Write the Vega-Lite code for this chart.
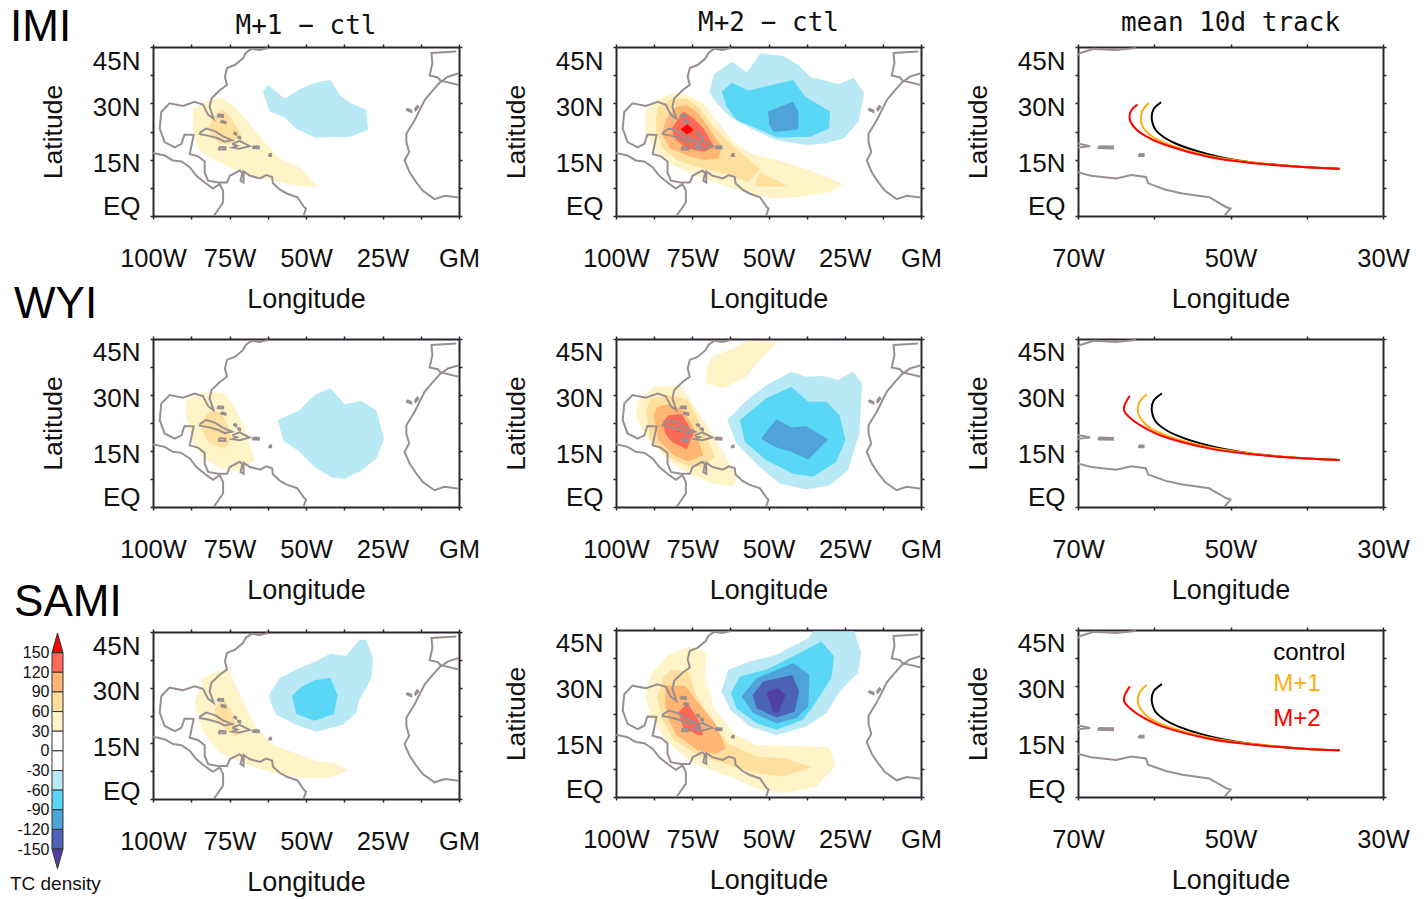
{"$schema":"https://vega.github.io/schema/vega-lite/v6.json","padding":{"left":9,"top":5,"right":5,"bottom":5},"columns":3,"bounds":"flush","spacing":{"row":123,"column":157},
"config":{"view":{"stroke":null},"line":{"order":null},"title":{"font":"DejaVu Sans Mono","fontSize":26,"fontWeight":"normal","color":"#111","offset":7},"axis":{"labelFont":"Liberation Sans","labelFontSize":25.5,"titleFont":"Liberation Sans","titleFontWeight":"normal","labelColor":"#111","titleColor":"#111","domainColor":"#2b2530","domainWidth":2,"tickColor":"#2b2530","tickWidth":1.5,"tickSize":3,"labelOverlap":false,"labelBound":false,"labelFlush":false,"grid":false,"zindex":1},"axisBottom":{"labelPadding":27,"titlePadding":15,"titleFontSize":27},"axisLeft":{"labelPadding":10,"labelFontSize":26,"titlePadding":25,"titleFontSize":26.5},"axisTop":{"labels":false},"axisRight":{"labels":false}},
"datasets":{
"coast":[
{"s":"a","lon":-62.4,"lat":44.7},{"s":"a","lon":-65.1,"lat":44.2},{"s":"a","lon":-67.9,"lat":44.5},{"s":"a","lon":-69.7,"lat":43.4},{"s":"a","lon":-70.6,"lat":42},{"s":"a","lon":-73.3,"lat":40.2},{"s":"a","lon":-75.8,"lat":39.4},{"s":"a","lon":-76.5,"lat":37.1},{"s":"a","lon":-75.8,"lat":34.9},{"s":"a","lon":-78.2,"lat":33.5},{"s":"a","lon":-80.9,"lat":31.3},{"s":"a","lon":-81.5,"lat":29.1},{"s":"a","lon":-80.2,"lat":25.9},{"s":"a","lon":-82,"lat":27},{"s":"a","lon":-83.7,"lat":29.7},{"s":"a","lon":-86.4,"lat":30.4},{"s":"a","lon":-90.2,"lat":29.3},{"s":"a","lon":-94.6,"lat":30},{"s":"a","lon":-97.3,"lat":27.7},{"s":"a","lon":-97.8,"lat":23.3},{"s":"a","lon":-96.2,"lat":19.7},{"s":"a","lon":-92.9,"lat":18.3},{"s":"a","lon":-90.7,"lat":19.2},{"s":"a","lon":-89.7,"lat":21.7},{"s":"a","lon":-86.7,"lat":21.6},{"s":"a","lon":-88,"lat":16.5},{"s":"a","lon":-85.3,"lat":15.9},{"s":"a","lon":-83.1,"lat":14.5},{"s":"a","lon":-83.1,"lat":11.6},{"s":"a","lon":-82,"lat":9.4},{"s":"a","lon":-78.8,"lat":8.9},{"s":"a","lon":-75.8,"lat":8.9},{"s":"a","lon":-74.9,"lat":10.7},{"s":"a","lon":-71.7,"lat":12.1},{"s":"a","lon":-70.8,"lat":11.4},{"s":"a","lon":-71.4,"lat":9.4},{"s":"a","lon":-70.4,"lat":8.9},{"s":"a","lon":-70.4,"lat":11.9},{"s":"a","lon":-68.3,"lat":10.7},{"s":"a","lon":-65,"lat":10},{"s":"a","lon":-63,"lat":10.9},{"s":"a","lon":-61.1,"lat":10.4},{"s":"a","lon":-60.8,"lat":8.7},{"s":"a","lon":-58.5,"lat":7},{"s":"a","lon":-56.3,"lat":6},{"s":"a","lon":-52.8,"lat":5},{"s":"a","lon":-50.6,"lat":2.4},{"s":"a","lon":-50,"lat":2},{"s":"a","lon":-50.8,"lat":0},
{"s":"b","lon":-100,"lat":16.8},{"s":"b","lon":-96.2,"lat":16.1},{"s":"b","lon":-93.5,"lat":14.8},{"s":"b","lon":-90.7,"lat":14.5},{"s":"b","lon":-88,"lat":13},{"s":"b","lon":-85.8,"lat":10.7},{"s":"b","lon":-83.1,"lat":8.9},{"s":"b","lon":-80.4,"lat":7.3},{"s":"b","lon":-78.2,"lat":8.5},{"s":"b","lon":-77.1,"lat":6.7},{"s":"b","lon":-77.1,"lat":3.6},{"s":"b","lon":-79.8,"lat":0.4},{"s":"b","lon":-80.2,"lat":0},
{"s":"c","lon":-0.9,"lat":43.8},{"s":"c","lon":-9,"lat":43.4},{"s":"c","lon":-8.7,"lat":40.7},{"s":"c","lon":-9.6,"lat":37.4},{"s":"c","lon":-6.9,"lat":36.9},{"s":"c","lon":-5.8,"lat":35.8},{"s":"c","lon":-3.6,"lat":37.1},{"s":"c","lon":0,"lat":38},
{"s":"d","lon":0,"lat":34.9},{"s":"d","lon":-5.8,"lat":36},{"s":"d","lon":-8.5,"lat":33.5},{"s":"d","lon":-11.2,"lat":30.9},{"s":"d","lon":-14.5,"lat":25.5},{"s":"d","lon":-17.2,"lat":21.9},{"s":"d","lon":-17.2,"lat":19.7},{"s":"d","lon":-16.3,"lat":17},{"s":"d","lon":-17.8,"lat":14.8},{"s":"d","lon":-16.1,"lat":11.6},{"s":"d","lon":-13.9,"lat":8.9},{"s":"d","lon":-11.8,"lat":6.7},{"s":"d","lon":-8,"lat":4.5},{"s":"d","lon":-4.7,"lat":5.4},{"s":"d","lon":0,"lat":4.9},
{"s":"e","lon":-84.7,"lat":22.2},{"s":"e","lon":-82.6,"lat":23.3},{"s":"e","lon":-79.8,"lat":22.6},{"s":"e","lon":-77.1,"lat":21.2},{"s":"e","lon":-74.2,"lat":20.2},{"s":"e","lon":-76.6,"lat":19.8},{"s":"e","lon":-78.8,"lat":20.7},{"s":"e","lon":-82,"lat":21.4},{"s":"e","lon":-84.7,"lat":21.8},{"s":"e","lon":-84.7,"lat":22.2},
{"s":"f","lon":-74.1,"lat":19.2},{"s":"f","lon":-71.7,"lat":20},{"s":"f","lon":-68.4,"lat":18.6},{"s":"f","lon":-71.7,"lat":17.9},{"s":"f","lon":-74.1,"lat":18.2},{"s":"f","lon":-72.5,"lat":18.7},{"s":"f","lon":-74.1,"lat":19.2},
{"s":"g","lon":-78.4,"lat":18.4},{"s":"g","lon":-76.3,"lat":18.3},{"s":"g","lon":-76.3,"lat":17.7},{"s":"g","lon":-78.4,"lat":17.7},{"s":"g","lon":-78.4,"lat":18.4},
{"s":"h","lon":-67.3,"lat":18.6},{"s":"h","lon":-65.4,"lat":18.5},{"s":"h","lon":-65.4,"lat":18},{"s":"h","lon":-67.3,"lat":18.1},{"s":"h","lon":-67.3,"lat":18.6},
{"s":"i","lon":-62,"lat":16.5},{"s":"i","lon":-61.4,"lat":16.5},{"s":"i","lon":-61.4,"lat":16},{"s":"i","lon":-62,"lat":16},{"s":"i","lon":-62,"lat":16.5},
{"s":"j","lon":-78.8,"lat":27},{"s":"j","lon":-77.1,"lat":26.9},{"s":"j","lon":-77.1,"lat":26.4},{"s":"j","lon":-78.8,"lat":26.5},{"s":"j","lon":-78.8,"lat":27},
{"s":"k","lon":-77.7,"lat":25.4},{"s":"k","lon":-76.3,"lat":25.1},{"s":"k","lon":-76.3,"lat":24.7},{"s":"k","lon":-77.7,"lat":25},{"s":"k","lon":-77.7,"lat":25.4},
{"s":"l","lon":-73.5,"lat":22.3},{"s":"l","lon":-72.8,"lat":22},{"s":"l","lon":-72.8,"lat":21.6},{"s":"l","lon":-73.5,"lat":21.9},{"s":"l","lon":-73.5,"lat":22.3},
{"s":"m","lon":-72.2,"lat":21.2},{"s":"m","lon":-71.5,"lat":21},{"s":"m","lon":-71.5,"lat":20.6},{"s":"m","lon":-72.2,"lat":20.8},{"s":"m","lon":-72.2,"lat":21.2},
{"s":"n","lon":-17,"lat":28.6},{"s":"n","lon":-15.6,"lat":28.1},{"s":"n","lon":-15.6,"lat":27.7},{"s":"n","lon":-17,"lat":28.2},{"s":"n","lon":-17,"lat":28.6},
{"s":"o","lon":-14.5,"lat":28.4},{"s":"o","lon":-13.6,"lat":29.3},{"s":"o","lon":-13.3,"lat":29},{"s":"o","lon":-14.2,"lat":28.1},{"s":"o","lon":-14.5,"lat":28.4}],
"a1":[
{"v":30,"lon":-86.9,"lat":28.6},{"v":30,"lon":-81.7,"lat":30.9},{"v":30,"lon":-77.7,"lat":31.5},{"v":30,"lon":-73.9,"lat":29.5},{"v":30,"lon":-69,"lat":25.1},{"v":30,"lon":-64.1,"lat":20.2},{"v":30,"lon":-58.6,"lat":15.3},{"v":30,"lon":-51.5,"lat":12.6},{"v":30,"lon":-47.2,"lat":8.6},{"v":30,"lon":-44.7,"lat":8},{"v":30,"lon":-49.9,"lat":7.7},{"v":30,"lon":-56.4,"lat":8.6},{"v":30,"lon":-66.2,"lat":10.4},{"v":30,"lon":-73.9,"lat":12.6},{"v":30,"lon":-81.5,"lat":15.7},{"v":30,"lon":-85.3,"lat":17.7},{"v":30,"lon":-86.9,"lat":22.9},
{"v":60,"lon":-82,"lat":23.8},{"v":60,"lon":-79.3,"lat":27.3},{"v":60,"lon":-77.1,"lat":28.5},{"v":60,"lon":-74.4,"lat":26},{"v":60,"lon":-71.1,"lat":21.5},{"v":60,"lon":-74.4,"lat":19.3},{"v":60,"lon":-78.2,"lat":19.3},{"v":60,"lon":-80.9,"lat":21.5},
{"v":-30,"lon":-64.1,"lat":33.1},{"v":-30,"lon":-62.4,"lat":34.9},{"v":-30,"lon":-57,"lat":31.3},{"v":-30,"lon":-51.5,"lat":34},{"v":-30,"lon":-47.2,"lat":35.5},{"v":-30,"lon":-42,"lat":36.2},{"v":-30,"lon":-39,"lat":32.2},{"v":-30,"lon":-35.7,"lat":30.2},{"v":-30,"lon":-30.3,"lat":28.2},{"v":-30,"lon":-29.7,"lat":22.9},{"v":-30,"lon":-35.7,"lat":21.1},{"v":-30,"lon":-47.2,"lat":20.9},{"v":-30,"lon":-53.2,"lat":23.3},{"v":-30,"lon":-57,"lat":26.2},{"v":-30,"lon":-61.9,"lat":27.8},{"v":-30,"lon":-63,"lat":30.4}],
"a2":[
{"v":30,"lon":-90.5,"lat":23.3},{"v":30,"lon":-90.2,"lat":27.8},{"v":30,"lon":-86.7,"lat":30.9},{"v":30,"lon":-81.2,"lat":32.8},{"v":30,"lon":-76.8,"lat":32.2},{"v":30,"lon":-71.3,"lat":30},{"v":30,"lon":-67,"lat":25.5},{"v":30,"lon":-62,"lat":20.2},{"v":30,"lon":-56,"lat":16.6},{"v":30,"lon":-47.3,"lat":14.9},{"v":30,"lon":-36.3,"lat":12.2},{"v":30,"lon":-25.4,"lat":8.5},{"v":30,"lon":-29.8,"lat":6.4},{"v":30,"lon":-39.6,"lat":5.1},{"v":30,"lon":-47.3,"lat":4.6},{"v":30,"lon":-54.9,"lat":5.5},{"v":30,"lon":-64.8,"lat":8.2},{"v":30,"lon":-75.7,"lat":11.3},{"v":30,"lon":-84.5,"lat":14.9},{"v":30,"lon":-87.7,"lat":18.4},
{"v":60,"lon":-86.9,"lat":26.4},{"v":60,"lon":-86.1,"lat":29.1},{"v":60,"lon":-81.2,"lat":31.3},{"v":60,"lon":-76.8,"lat":31.3},{"v":60,"lon":-73,"lat":29.1},{"v":60,"lon":-68,"lat":23.8},{"v":60,"lon":-62.6,"lat":19.3},{"v":60,"lon":-52.7,"lat":12.4},{"v":60,"lon":-56.6,"lat":9.1},{"v":60,"lon":-64.8,"lat":11.3},{"v":60,"lon":-71.3,"lat":12.6},{"v":60,"lon":-80.1,"lat":14.9},{"v":60,"lon":-85,"lat":18.4},{"v":60,"lon":-86.9,"lat":22.9},
{"v":60,"g":2,"lon":-53,"lat":11.7},{"v":60,"g":2,"lon":-43.4,"lat":7.9},{"v":60,"g":2,"lon":-48.4,"lat":7.7},{"v":60,"g":2,"lon":-54.4,"lat":8},
{"v":90,"lon":-84.7,"lat":22.9},{"v":90,"lon":-83.4,"lat":26},{"v":90,"lon":-80.4,"lat":29.1},{"v":90,"lon":-76.8,"lat":29.5},{"v":90,"lon":-73.5,"lat":27.8},{"v":90,"lon":-70.2,"lat":24.2},{"v":90,"lon":-65.3,"lat":18.4},{"v":90,"lon":-66.4,"lat":15.3},{"v":90,"lon":-71.3,"lat":14.9},{"v":90,"lon":-76.8,"lat":16.2},{"v":90,"lon":-82.3,"lat":18},{"v":90,"lon":-84.5,"lat":21.1},
{"v":120,"lon":-81.7,"lat":23.3},{"v":120,"lon":-77.9,"lat":27.8},{"v":120,"lon":-74.6,"lat":26},{"v":120,"lon":-71.3,"lat":23.3},{"v":120,"lon":-67.8,"lat":18.4},{"v":120,"lon":-71.3,"lat":17.1},{"v":120,"lon":-76.8,"lat":18},{"v":120,"lon":-80.6,"lat":20.6},
{"v":150,"lon":-78.8,"lat":23.1},{"v":150,"lon":-76.6,"lat":24.5},{"v":150,"lon":-74.6,"lat":22.9},{"v":150,"lon":-76.8,"lat":21.7},
{"v":-30,"lon":-69.4,"lat":33.1},{"v":-30,"lon":-67.8,"lat":37.8},{"v":-30,"lon":-62,"lat":41.1},{"v":-30,"lon":-57.1,"lat":38.2},{"v":-30,"lon":-52.7,"lat":43.3},{"v":-30,"lon":-45.1,"lat":42.6},{"v":-30,"lon":-40.2,"lat":40.2},{"v":-30,"lon":-36.3,"lat":37.1},{"v":-30,"lon":-27,"lat":35.1},{"v":-30,"lon":-22.1,"lat":36.8},{"v":-30,"lon":-18.6,"lat":32.7},{"v":-30,"lon":-20.5,"lat":25.1},{"v":-30,"lon":-25.4,"lat":20.6},{"v":-30,"lon":-31.9,"lat":19.3},{"v":-30,"lon":-37.4,"lat":18.9},{"v":-30,"lon":-47.3,"lat":20.2},{"v":-30,"lon":-54.9,"lat":22.9},{"v":-30,"lon":-62.6,"lat":26.4},{"v":-30,"lon":-67,"lat":30},
{"v":-60,"lon":-65.3,"lat":33.1},{"v":-60,"lon":-62,"lat":35.5},{"v":-60,"lon":-56.6,"lat":33.4},{"v":-60,"lon":-50.5,"lat":34.6},{"v":-60,"lon":-42,"lat":36.2},{"v":-60,"lon":-38,"lat":31.8},{"v":-60,"lon":-29.8,"lat":27.8},{"v":-60,"lon":-30.1,"lat":23.3},{"v":-60,"lon":-36.3,"lat":21.1},{"v":-60,"lon":-47.3,"lat":20.9},{"v":-60,"lon":-53.8,"lat":23.3},{"v":-60,"lon":-60.4,"lat":25.5},{"v":-60,"lon":-63.7,"lat":29.1},
{"v":-90,"lon":-50.2,"lat":27.8},{"v":-90,"lon":-42,"lat":30.4},{"v":-90,"lon":-40.2,"lat":27.8},{"v":-90,"lon":-40.2,"lat":23},{"v":-90,"lon":-48.4,"lat":22.4},{"v":-90,"lon":-49.7,"lat":24.2}],
"b1":[
{"v":30,"lon":-89.3,"lat":25},{"v":30,"lon":-89.1,"lat":28.6},{"v":30,"lon":-83.7,"lat":30.7},{"v":30,"lon":-77.1,"lat":30.7},{"v":30,"lon":-74.4,"lat":28.2},{"v":30,"lon":-70,"lat":21.5},{"v":30,"lon":-66.8,"lat":12.5},{"v":30,"lon":-71.1,"lat":9.8},{"v":30,"lon":-78.2,"lat":10.3},{"v":30,"lon":-83.1,"lat":13},{"v":30,"lon":-86.9,"lat":17},
{"v":60,"lon":-84.2,"lat":23.3},{"v":60,"lon":-81.5,"lat":25.5},{"v":60,"lon":-78.2,"lat":25.5},{"v":60,"lon":-75.5,"lat":21.9},{"v":60,"lon":-74.4,"lat":18.3},{"v":60,"lon":-76.6,"lat":15.4},{"v":60,"lon":-82,"lat":17.4},{"v":60,"lon":-83.7,"lat":20.1},
{"v":-30,"lon":-59.2,"lat":23.3},{"v":-30,"lon":-52.1,"lat":25.9},{"v":-30,"lon":-47.2,"lat":30},{"v":-30,"lon":-42,"lat":31.8},{"v":-30,"lon":-37.4,"lat":27.5},{"v":-30,"lon":-31.9,"lat":28.4},{"v":-30,"lon":-27,"lat":25.9},{"v":-30,"lon":-24.5,"lat":18.1},{"v":-30,"lon":-27,"lat":13},{"v":-30,"lon":-31.9,"lat":9.8},{"v":-30,"lon":-37.4,"lat":7.6},{"v":-30,"lon":-41.7,"lat":7.9},{"v":-30,"lon":-47.2,"lat":10.7},{"v":-30,"lon":-52.1,"lat":14.8},{"v":-30,"lon":-57.5,"lat":17.9}],
"b2":[
{"v":30,"lon":-93.5,"lat":24.2},{"v":30,"lon":-92.9,"lat":28.2},{"v":30,"lon":-87.7,"lat":32.2},{"v":30,"lon":-79,"lat":32.6},{"v":30,"lon":-74.1,"lat":26.8},{"v":30,"lon":-68.1,"lat":19.2},{"v":30,"lon":-63.2,"lat":12.1},{"v":30,"lon":-59.9,"lat":8.1},{"v":30,"lon":-62.1,"lat":5.5},{"v":30,"lon":-68.1,"lat":6.3},{"v":30,"lon":-75.7,"lat":8.5},{"v":30,"lon":-82.8,"lat":12.5},{"v":30,"lon":-90.4,"lat":19.2},
{"v":30,"g":2,"lon":-70.5,"lat":36.7},{"v":30,"g":2,"lon":-68.6,"lat":40.2},{"v":30,"g":2,"lon":-61.5,"lat":42.5},{"v":30,"g":2,"lon":-57.2,"lat":44.5},{"v":30,"g":2,"lon":-46.8,"lat":44.3},{"v":30,"g":2,"lon":-52.8,"lat":39.4},{"v":30,"g":2,"lon":-57.2,"lat":34.9},{"v":30,"g":2,"lon":-64.8,"lat":31.8},{"v":30,"g":2,"lon":-70.3,"lat":33.1},
{"v":60,"lon":-90.1,"lat":25.9},{"v":60,"lon":-88.8,"lat":29.1},{"v":60,"lon":-81.7,"lat":30},{"v":60,"lon":-76.3,"lat":28.6},{"v":60,"lon":-72.4,"lat":22.4},{"v":60,"lon":-67.5,"lat":13.4},{"v":60,"lon":-71.4,"lat":10.7},{"v":60,"lon":-76.3,"lat":10.7},{"v":60,"lon":-83.9,"lat":13.9},{"v":60,"lon":-88.8,"lat":17.9},
{"v":90,"lon":-87.7,"lat":24.6},{"v":90,"lon":-86.6,"lat":26.8},{"v":90,"lon":-82.8,"lat":27.5},{"v":90,"lon":-77.9,"lat":25.9},{"v":90,"lon":-74.1,"lat":20.6},{"v":90,"lon":-71.4,"lat":13.9},{"v":90,"lon":-76.3,"lat":12.1},{"v":90,"lon":-81.2,"lat":13.9},{"v":90,"lon":-86.1,"lat":17.9},
{"v":120,"lon":-84.6,"lat":22.8},{"v":120,"lon":-82.8,"lat":24.6},{"v":120,"lon":-78.4,"lat":24.9},{"v":120,"lon":-74.6,"lat":19.7},{"v":120,"lon":-76.8,"lat":15.4},{"v":120,"lon":-81.7,"lat":17.4},{"v":120,"lon":-83.9,"lat":19.7},
{"v":-30,"lon":-63.5,"lat":23.3},{"v":-30,"lon":-57.2,"lat":28.6},{"v":-30,"lon":-50.7,"lat":32.6},{"v":-30,"lon":-42.5,"lat":36.2},{"v":-30,"lon":-37.6,"lat":34.9},{"v":-30,"lon":-32.1,"lat":35.1},{"v":-30,"lon":-27.2,"lat":34},{"v":-30,"lon":-22.3,"lat":36.2},{"v":-30,"lon":-19.3,"lat":33.1},{"v":-30,"lon":-20.2,"lat":19.7},{"v":-30,"lon":-24,"lat":9.8},{"v":-30,"lon":-30,"lat":5.8},{"v":-30,"lon":-37.6,"lat":4.7},{"v":-30,"lon":-46.3,"lat":6.3},{"v":-30,"lon":-52.8,"lat":10.7},{"v":-30,"lon":-60.5,"lat":17},
{"v":-60,"lon":-59.4,"lat":23.3},{"v":-60,"lon":-50.7,"lat":29.1},{"v":-60,"lon":-42.5,"lat":32.2},{"v":-60,"lon":-37,"lat":28.2},{"v":-60,"lon":-31,"lat":28.2},{"v":-60,"lon":-26.7,"lat":24.6},{"v":-60,"lon":-24.8,"lat":17.9},{"v":-60,"lon":-27.8,"lat":12.1},{"v":-60,"lon":-35.4,"lat":8.1},{"v":-60,"lon":-41.9,"lat":8.9},{"v":-60,"lon":-50.7,"lat":12.5},{"v":-60,"lon":-57.7,"lat":17.4},
{"v":-90,"lon":-52.5,"lat":18.3},{"v":-90,"lon":-47.4,"lat":23.5},{"v":-90,"lon":-42.5,"lat":21.3},{"v":-90,"lon":-37.6,"lat":21.7},{"v":-90,"lon":-30.5,"lat":18.1},{"v":-90,"lon":-37,"lat":12.7},{"v":-90,"lon":-42.5,"lat":14.8},{"v":-90,"lon":-47.9,"lat":16.1}],
"c1":[
{"v":30,"lon":-86.4,"lat":26.3},{"v":30,"lon":-83.7,"lat":32.6},{"v":30,"lon":-76,"lat":35.6},{"v":30,"lon":-71.7,"lat":28.6},{"v":30,"lon":-67.3,"lat":20.5},{"v":30,"lon":-60.8,"lat":14.6},{"v":30,"lon":-52.1,"lat":11.9},{"v":30,"lon":-46.6,"lat":10.2},{"v":30,"lon":-41.2,"lat":10},{"v":30,"lon":-36.3,"lat":7.7},{"v":30,"lon":-42.3,"lat":5.7},{"v":30,"lon":-52.1,"lat":5.7},{"v":30,"lon":-60.8,"lat":7},{"v":30,"lon":-69.5,"lat":9.3},{"v":30,"lon":-78.8,"lat":12.8},{"v":30,"lon":-83.7,"lat":18.2},
{"v":60,"lon":-79.8,"lat":24.1},{"v":60,"lon":-77.1,"lat":27.7},{"v":60,"lon":-74.9,"lat":24.1},{"v":60,"lon":-71.7,"lat":17.8},{"v":60,"lon":-72.8,"lat":16.7},{"v":60,"lon":-76,"lat":18.7},{"v":60,"lon":-78.8,"lat":20.9},
{"v":-30,"lon":-62.1,"lat":28.1},{"v":-30,"lon":-58.6,"lat":32.6},{"v":-30,"lon":-52.1,"lat":35.3},{"v":-30,"lon":-46.6,"lat":37.1},{"v":-30,"lon":-42,"lat":39.2},{"v":-30,"lon":-37,"lat":38.5},{"v":-30,"lon":-32.5,"lat":42.9},{"v":-30,"lon":-30.3,"lat":42.9},{"v":-30,"lon":-28.1,"lat":38},{"v":-30,"lon":-28.6,"lat":32.6},{"v":-30,"lon":-32.5,"lat":26.8},{"v":-30,"lon":-33.6,"lat":23.2},{"v":-30,"lon":-37.9,"lat":20},{"v":-30,"lon":-46.6,"lat":18.1},{"v":-30,"lon":-53.2,"lat":20},{"v":-30,"lon":-59.7,"lat":22.7},{"v":-30,"lon":-61.3,"lat":25.4},
{"v":-60,"lon":-54.6,"lat":27.9},{"v":-60,"lon":-51.5,"lat":30.2},{"v":-60,"lon":-47.2,"lat":32},{"v":-60,"lon":-42,"lat":32.7},{"v":-60,"lon":-39.7,"lat":27.9},{"v":-60,"lon":-40.9,"lat":22.9},{"v":-60,"lon":-47.2,"lat":21.1},{"v":-60,"lon":-53.2,"lat":22.9}],
"c2":[
{"v":30,"lon":-90.4,"lat":27.1},{"v":30,"lon":-88.2,"lat":33.4},{"v":30,"lon":-83.3,"lat":37.9},{"v":30,"lon":-76.3,"lat":40.6},{"v":30,"lon":-70.3,"lat":38.8},{"v":30,"lon":-70.8,"lat":32},{"v":30,"lon":-67.5,"lat":23.5},{"v":30,"lon":-61.5,"lat":17.2},{"v":30,"lon":-53.9,"lat":14},{"v":30,"lon":-39.8,"lat":13.8},{"v":30,"lon":-30,"lat":13.4},{"v":30,"lon":-28,"lat":8.2},{"v":30,"lon":-34.3,"lat":2.8},{"v":30,"lon":-45.2,"lat":1},{"v":30,"lon":-53.9,"lat":2.3},{"v":30,"lon":-62.6,"lat":5.5},{"v":30,"lon":-74.6,"lat":9.1},{"v":30,"lon":-83.3,"lat":14.9},{"v":30,"lon":-88.2,"lat":20.8},
{"v":60,"lon":-86.4,"lat":27.1},{"v":60,"lon":-84.4,"lat":32.5},{"v":60,"lon":-81.7,"lat":34.3},{"v":60,"lon":-76.3,"lat":33.8},{"v":60,"lon":-73.5,"lat":27.1},{"v":60,"lon":-68.1,"lat":19.9},{"v":60,"lon":-63.2,"lat":14.5},{"v":60,"lon":-53.9,"lat":10.9},{"v":60,"lon":-44.1,"lat":10.4},{"v":60,"lon":-36,"lat":8},{"v":60,"lon":-45.2,"lat":5.5},{"v":60,"lon":-53.9,"lat":6.4},{"v":60,"lon":-61.5,"lat":8.2},{"v":60,"lon":-72.4,"lat":10.9},{"v":60,"lon":-81.2,"lat":15.4},{"v":60,"lon":-85,"lat":21.2},
{"v":90,"lon":-83.9,"lat":25.3},{"v":90,"lon":-83.7,"lat":30},{"v":90,"lon":-77.3,"lat":30},{"v":90,"lon":-73,"lat":25.3},{"v":90,"lon":-67.5,"lat":19.9},{"v":90,"lon":-63.9,"lat":13.1},{"v":90,"lon":-67.5,"lat":11.6},{"v":90,"lon":-73.5,"lat":12.7},{"v":90,"lon":-80.1,"lat":16.7},{"v":90,"lon":-82.8,"lat":20.8},
{"v":120,"lon":-79.5,"lat":23},{"v":120,"lon":-76.6,"lat":25.3},{"v":120,"lon":-73,"lat":20.8},{"v":120,"lon":-71.4,"lat":16.7},{"v":120,"lon":-73,"lat":16.7},{"v":120,"lon":-77.9,"lat":18.5},
{"v":-30,"lon":-65.4,"lat":28.4},{"v":-30,"lon":-63.2,"lat":34.3},{"v":-30,"lon":-56.1,"lat":36.5},{"v":-30,"lon":-47.4,"lat":38.3},{"v":-30,"lon":-37,"lat":42.8},{"v":-30,"lon":-35.4,"lat":44.6},{"v":-30,"lon":-21.8,"lat":44.6},{"v":-30,"lon":-19.6,"lat":38.8},{"v":-30,"lon":-20.7,"lat":33.4},{"v":-30,"lon":-26.7,"lat":28.4},{"v":-30,"lon":-31,"lat":22.6},{"v":-30,"lon":-37.6,"lat":19},{"v":-30,"lon":-47.4,"lat":16.7},{"v":-30,"lon":-56.1,"lat":19},{"v":-30,"lon":-62.6,"lat":23.5},
{"v":-60,"lon":-62.3,"lat":28},{"v":-60,"lon":-59.4,"lat":32.5},{"v":-60,"lon":-50.7,"lat":34.3},{"v":-60,"lon":-40.9,"lat":38.3},{"v":-60,"lon":-32.7,"lat":41.9},{"v":-60,"lon":-28.5,"lat":37.9},{"v":-60,"lon":-29.4,"lat":32},{"v":-60,"lon":-35.4,"lat":24.4},{"v":-60,"lon":-38.7,"lat":20.8},{"v":-60,"lon":-47.4,"lat":18.1},{"v":-60,"lon":-53.9,"lat":19.9},{"v":-60,"lon":-60.5,"lat":23.9},
{"v":-90,"lon":-58.8,"lat":27.1},{"v":-90,"lon":-53.9,"lat":32},{"v":-90,"lon":-41.9,"lat":36.1},{"v":-90,"lon":-36.5,"lat":32.9},{"v":-90,"lon":-37,"lat":24.4},{"v":-90,"lon":-40.9,"lat":21.2},{"v":-90,"lon":-47.4,"lat":19.9},{"v":-90,"lon":-55,"lat":22.6},
{"v":-120,"lon":-55.2,"lat":27.5},{"v":-120,"lon":-51.7,"lat":31.1},{"v":-120,"lon":-42.2,"lat":32.9},{"v":-120,"lon":-40,"lat":28.4},{"v":-120,"lon":-41.4,"lat":23},{"v":-120,"lon":-47.4,"lat":21.4},{"v":-120,"lon":-53.9,"lat":23.9},
{"v":-150,"lon":-50.7,"lat":28.2},{"v":-150,"lon":-46.8,"lat":29.3},{"v":-150,"lon":-44.4,"lat":27.5},{"v":-150,"lon":-46.8,"lat":22.6},{"v":-150,"lon":-48.5,"lat":23}],
"t1":[
{"s":"control","lon":-59.1,"lat":30.3},{"s":"control","lon":-60.1,"lat":28.4},{"s":"control","lon":-60.3,"lat":25.5},{"s":"control","lon":-59.6,"lat":22.4},{"s":"control","lon":-57.2,"lat":19.3},{"s":"control","lon":-52.8,"lat":16.4},{"s":"control","lon":-47.6,"lat":14.4},{"s":"control","lon":-41,"lat":13.1},{"s":"control","lon":-35.7,"lat":12.6},
{"s":"M+1","lon":-60.7,"lat":30.1},{"s":"M+1","lon":-61.6,"lat":27.8},{"s":"M+1","lon":-61.6,"lat":24.2},{"s":"M+1","lon":-60.2,"lat":21.1},{"s":"M+1","lon":-57.2,"lat":18.4},{"s":"M+1","lon":-52.8,"lat":16},{"s":"M+1","lon":-47.6,"lat":14.4},{"s":"M+1","lon":-41,"lat":13.1},{"s":"M+1","lon":-35.7,"lat":12.6},
{"s":"M+2","lon":-62.2,"lat":29.7},{"s":"M+2","lon":-63.1,"lat":27.8},{"s":"M+2","lon":-63.1,"lat":25.1},{"s":"M+2","lon":-61.7,"lat":22},{"s":"M+2","lon":-58.5,"lat":18.9},{"s":"M+2","lon":-52.8,"lat":15.7},{"s":"M+2","lon":-47.6,"lat":14.2},{"s":"M+2","lon":-41,"lat":13.1},{"s":"M+2","lon":-35.7,"lat":12.6}],
"t2":[
{"s":"control","lon":-59,"lat":30.4},{"s":"control","lon":-60.1,"lat":28.4},{"s":"control","lon":-60.3,"lat":25.5},{"s":"control","lon":-59.6,"lat":22.4},{"s":"control","lon":-57.2,"lat":19.3},{"s":"control","lon":-52.8,"lat":16.4},{"s":"control","lon":-47.6,"lat":14.4},{"s":"control","lon":-41,"lat":13.1},{"s":"control","lon":-35.7,"lat":12.6},
{"s":"M+1","lon":-61,"lat":30.2},{"s":"M+1","lon":-62,"lat":27.8},{"s":"M+1","lon":-62,"lat":24.5},{"s":"M+1","lon":-60.4,"lat":21},{"s":"M+1","lon":-57.2,"lat":18.3},{"s":"M+1","lon":-52.8,"lat":16},{"s":"M+1","lon":-47.6,"lat":14.4},{"s":"M+1","lon":-41,"lat":13.1},{"s":"M+1","lon":-35.7,"lat":12.6},
{"s":"M+2","lon":-63.2,"lat":29.8},{"s":"M+2","lon":-63.9,"lat":27.2},{"s":"M+2","lon":-63.8,"lat":25.2},{"s":"M+2","lon":-62,"lat":22.1},{"s":"M+2","lon":-58.8,"lat":18.9},{"s":"M+2","lon":-52.8,"lat":15.7},{"s":"M+2","lon":-47.6,"lat":14.2},{"s":"M+2","lon":-41,"lat":13.1},{"s":"M+2","lon":-35.7,"lat":12.6}],
"bins":[{"lo":120,"hi":150,"v":120},{"lo":90,"hi":120,"v":90},{"lo":60,"hi":90,"v":60},{"lo":30,"hi":60,"v":30},{"lo":0,"hi":30,"v":0},{"lo":-30,"hi":0,"v":0},{"lo":-60,"hi":-30,"v":-30},{"lo":-90,"hi":-60,"v":-60},{"lo":-120,"hi":-90,"v":-90},{"lo":-150,"hi":-120,"v":-120}],
"tips":[{"v":150,"a":0,"d":150},{"v":150,"a":0.5,"d":180},{"v":150,"a":1,"d":150},{"v":-150,"a":0,"d":-150},{"v":-150,"a":0.5,"d":-180},{"v":-150,"a":1,"d":-150}]
},
"concat":[
{"width":306,"height":169,"title":{"text":"M+1 − ctl","offset":-33},"resolve":{"axis":{"x":"independent","y":"independent"}},"layer":[
{"data":{"name":"a1"},"mark":{"type":"line","interpolate":"linear-closed","strokeWidth":0},"encoding":{"x":{"field":"lon","type":"quantitative","scale":{"domain":[-100,0]},"axis":{"orient":"bottom","values":[-100,-87.5,-75,-62.5,-50,-37.5,-25,-12.5,0],"labelExpr":"datum.value===0?'GM':datum.value%25===0?abs(datum.value)+'W':''","title":"Longitude"}},"y":{"field":"lat","type":"quantitative","scale":{"domain":[0,45]},"axis":{"orient":"left","values":[0,7.5,15,22.5,30,37.5,45],"labelExpr":"datum.value===0?'EQ':datum.value%15===0?datum.value+'N':''","labelOffset":{"condition":[{"test":"datum.value===45","value":14},{"test":"datum.value===0","value":-10}],"value":4},"title":"Latitude"}},"fill":{"field":"v","type":"ordinal","scale":{"domain":[-150,-120,-90,-60,-30,0,30,60,90,120,150],"range":["#5040A4","#4C62B4","#4FA3D9","#5AD7F6","#B8E9F4","#FFFFFF","#FFF4C8","#FFDF9E","#FFB574","#FF6A58","#FF0000"]},"legend":null},"detail":{"field":"g"}}},
{"data":{"name":"coast"},"mark":{"type":"line","clip":true,"stroke":"#9a8f90","strokeWidth":2},"encoding":{"x":{"field":"lon","type":"quantitative","scale":{"domain":[-100,0]},"axis":{"orient":"top","values":[-100,-87.5,-75,-62.5,-50,-37.5,-25,-12.5,0],"title":null}},"y":{"field":"lat","type":"quantitative","scale":{"domain":[0,45]},"axis":{"orient":"right","values":[0,7.5,15,22.5,30,37.5,45],"title":null}},"detail":{"field":"s"}}},
{"data":{"values":[{"t":"IMI","lon":-146.7,"lat":50.1}]},"mark":{"type":"text","align":"left","font":"Liberation Sans","fontSize":44,"color":"#000"},"encoding":{"x":{"field":"lon","type":"quantitative","scale":{"domain":[-100,0]},"axis":null},"y":{"field":"lat","type":"quantitative","scale":{"domain":[0,45]},"axis":null},"text":{"field":"t"}}}]},
{"width":305,"height":169,"title":"M+2 − ctl","resolve":{"axis":{"x":"independent","y":"independent"}},"layer":[
{"data":{"name":"a2"},"mark":{"type":"line","interpolate":"linear-closed","strokeWidth":0},"encoding":{"x":{"field":"lon","type":"quantitative","scale":{"domain":[-100,0]},"axis":{"orient":"bottom","values":[-100,-87.5,-75,-62.5,-50,-37.5,-25,-12.5,0],"labelExpr":"datum.value===0?'GM':datum.value%25===0?abs(datum.value)+'W':''","title":"Longitude"}},"y":{"field":"lat","type":"quantitative","scale":{"domain":[0,45]},"axis":{"orient":"left","values":[0,7.5,15,22.5,30,37.5,45],"labelExpr":"datum.value===0?'EQ':datum.value%15===0?datum.value+'N':''","labelOffset":{"condition":[{"test":"datum.value===45","value":14},{"test":"datum.value===0","value":-10}],"value":4},"title":"Latitude"}},"fill":{"field":"v","type":"ordinal","scale":{"domain":[-150,-120,-90,-60,-30,0,30,60,90,120,150],"range":["#5040A4","#4C62B4","#4FA3D9","#5AD7F6","#B8E9F4","#FFFFFF","#FFF4C8","#FFDF9E","#FFB574","#FF6A58","#FF0000"]},"legend":null},"detail":{"field":"g"}}},
{"data":{"name":"coast"},"mark":{"type":"line","clip":true,"stroke":"#9a8f90","strokeWidth":2},"encoding":{"x":{"field":"lon","type":"quantitative","scale":{"domain":[-100,0]},"axis":{"orient":"top","values":[-100,-87.5,-75,-62.5,-50,-37.5,-25,-12.5,0],"title":null}},"y":{"field":"lat","type":"quantitative","scale":{"domain":[0,45]},"axis":{"orient":"right","values":[0,7.5,15,22.5,30,37.5,45],"title":null}},"detail":{"field":"s"}}}]},
{"width":305,"height":169,"title":"mean 10d track","resolve":{"axis":{"x":"independent","y":"independent"}},"layer":[
{"data":{"name":"coast"},"mark":{"type":"line","clip":true,"stroke":"#9a8f90","strokeWidth":2},"encoding":{"x":{"field":"lon","type":"quantitative","scale":{"domain":[-70,-30]},"axis":{"orient":"bottom","values":[-70,-60,-50,-40,-30],"labelExpr":"abs(datum.value)%20===10?abs(datum.value)+'W':''","title":"Longitude"}},"y":{"field":"lat","type":"quantitative","scale":{"domain":[0,45]},"axis":{"orient":"left","values":[0,7.5,15,22.5,30,37.5,45],"labelExpr":"datum.value===0?'EQ':datum.value%15===0?datum.value+'N':''","labelOffset":{"condition":[{"test":"datum.value===45","value":14},{"test":"datum.value===0","value":-10}],"value":4},"title":"Latitude"}},"detail":{"field":"s"}}},
{"data":{"name":"t1"},"mark":{"type":"line","interpolate":"cardinal","strokeWidth":2},"encoding":{"x":{"field":"lon","type":"quantitative","scale":{"domain":[-70,-30]},"axis":{"orient":"top","values":[-70,-60,-50,-40,-30],"title":null}},"y":{"field":"lat","type":"quantitative","scale":{"domain":[0,45]},"axis":{"orient":"right","values":[0,7.5,15,22.5,30,37.5,45],"title":null}},"color":{"field":"s","type":"nominal","scale":{"domain":["control","M+1","M+2"],"range":["#000000","#FBAE17","#FF0000"]},"legend":null}}}]},
{"width":306,"height":168,"resolve":{"axis":{"x":"independent","y":"independent"}},"layer":[
{"data":{"name":"b1"},"mark":{"type":"line","interpolate":"linear-closed","strokeWidth":0},"encoding":{"x":{"field":"lon","type":"quantitative","scale":{"domain":[-100,0]},"axis":{"orient":"bottom","values":[-100,-87.5,-75,-62.5,-50,-37.5,-25,-12.5,0],"labelExpr":"datum.value===0?'GM':datum.value%25===0?abs(datum.value)+'W':''","title":"Longitude"}},"y":{"field":"lat","type":"quantitative","scale":{"domain":[0,45]},"axis":{"orient":"left","values":[0,7.5,15,22.5,30,37.5,45],"labelExpr":"datum.value===0?'EQ':datum.value%15===0?datum.value+'N':''","labelOffset":{"condition":[{"test":"datum.value===45","value":13},{"test":"datum.value===0","value":-10}],"value":3},"title":"Latitude"}},"fill":{"field":"v","type":"ordinal","scale":{"domain":[-150,-120,-90,-60,-30,0,30,60,90,120,150],"range":["#5040A4","#4C62B4","#4FA3D9","#5AD7F6","#B8E9F4","#FFFFFF","#FFF4C8","#FFDF9E","#FFB574","#FF6A58","#FF0000"]},"legend":null},"detail":{"field":"g"}}},
{"data":{"name":"coast"},"mark":{"type":"line","clip":true,"stroke":"#9a8f90","strokeWidth":2},"encoding":{"x":{"field":"lon","type":"quantitative","scale":{"domain":[-100,0]},"axis":{"orient":"top","values":[-100,-87.5,-75,-62.5,-50,-37.5,-25,-12.5,0],"title":null}},"y":{"field":"lat","type":"quantitative","scale":{"domain":[0,45]},"axis":{"orient":"right","values":[0,7.5,15,22.5,30,37.5,45],"title":null}},"detail":{"field":"s"}}},
{"data":{"values":[{"t":"WYI","lon":-145.4,"lat":54.1}]},"mark":{"type":"text","align":"left","font":"Liberation Sans","fontSize":44,"color":"#000"},"encoding":{"x":{"field":"lon","type":"quantitative","scale":{"domain":[-100,0]},"axis":null},"y":{"field":"lat","type":"quantitative","scale":{"domain":[0,45]},"axis":null},"text":{"field":"t"}}}]},
{"width":305,"height":168,"resolve":{"axis":{"x":"independent","y":"independent"}},"layer":[
{"data":{"name":"b2"},"mark":{"type":"line","interpolate":"linear-closed","strokeWidth":0},"encoding":{"x":{"field":"lon","type":"quantitative","scale":{"domain":[-100,0]},"axis":{"orient":"bottom","values":[-100,-87.5,-75,-62.5,-50,-37.5,-25,-12.5,0],"labelExpr":"datum.value===0?'GM':datum.value%25===0?abs(datum.value)+'W':''","title":"Longitude"}},"y":{"field":"lat","type":"quantitative","scale":{"domain":[0,45]},"axis":{"orient":"left","values":[0,7.5,15,22.5,30,37.5,45],"labelExpr":"datum.value===0?'EQ':datum.value%15===0?datum.value+'N':''","labelOffset":{"condition":[{"test":"datum.value===45","value":13},{"test":"datum.value===0","value":-10}],"value":3},"title":"Latitude"}},"fill":{"field":"v","type":"ordinal","scale":{"domain":[-150,-120,-90,-60,-30,0,30,60,90,120,150],"range":["#5040A4","#4C62B4","#4FA3D9","#5AD7F6","#B8E9F4","#FFFFFF","#FFF4C8","#FFDF9E","#FFB574","#FF6A58","#FF0000"]},"legend":null},"detail":{"field":"g"}}},
{"data":{"name":"coast"},"mark":{"type":"line","clip":true,"stroke":"#9a8f90","strokeWidth":2},"encoding":{"x":{"field":"lon","type":"quantitative","scale":{"domain":[-100,0]},"axis":{"orient":"top","values":[-100,-87.5,-75,-62.5,-50,-37.5,-25,-12.5,0],"title":null}},"y":{"field":"lat","type":"quantitative","scale":{"domain":[0,45]},"axis":{"orient":"right","values":[0,7.5,15,22.5,30,37.5,45],"title":null}},"detail":{"field":"s"}}}]},
{"width":305,"height":168,"resolve":{"axis":{"x":"independent","y":"independent"}},"layer":[
{"data":{"name":"coast"},"mark":{"type":"line","clip":true,"stroke":"#9a8f90","strokeWidth":2},"encoding":{"x":{"field":"lon","type":"quantitative","scale":{"domain":[-70,-30]},"axis":{"orient":"bottom","values":[-70,-60,-50,-40,-30],"labelExpr":"abs(datum.value)%20===10?abs(datum.value)+'W':''","title":"Longitude"}},"y":{"field":"lat","type":"quantitative","scale":{"domain":[0,45]},"axis":{"orient":"left","values":[0,7.5,15,22.5,30,37.5,45],"labelExpr":"datum.value===0?'EQ':datum.value%15===0?datum.value+'N':''","labelOffset":{"condition":[{"test":"datum.value===45","value":13},{"test":"datum.value===0","value":-10}],"value":3},"title":"Latitude"}},"detail":{"field":"s"}}},
{"data":{"name":"t2"},"mark":{"type":"line","interpolate":"cardinal","strokeWidth":2},"encoding":{"x":{"field":"lon","type":"quantitative","scale":{"domain":[-70,-30]},"axis":{"orient":"top","values":[-70,-60,-50,-40,-30],"title":null}},"y":{"field":"lat","type":"quantitative","scale":{"domain":[0,45]},"axis":{"orient":"right","values":[0,7.5,15,22.5,30,37.5,45],"title":null}},"color":{"field":"s","type":"nominal","scale":{"domain":["control","M+1","M+2"],"range":["#000000","#FBAE17","#FF0000"]},"legend":null}}}]},
{"width":306,"height":169,"resolve":{"scale":{"x":"independent","y":"independent"},"axis":{"x":"independent","y":"independent"}},"layer":[
{"resolve":{"axis":{"x":"independent","y":"independent"}},"layer":[
{"data":{"name":"c1"},"mark":{"type":"line","interpolate":"linear-closed","strokeWidth":0},"encoding":{"x":{"field":"lon","type":"quantitative","scale":{"domain":[-100,0]},"axis":{"orient":"bottom","values":[-100,-87.5,-75,-62.5,-50,-37.5,-25,-12.5,0],"labelExpr":"datum.value===0?'GM':datum.value%25===0?abs(datum.value)+'W':''","title":"Longitude"}},"y":{"field":"lat","type":"quantitative","scale":{"domain":[0,45],"range":[169,2]},"axis":{"orient":"left","values":[0,7.5,15,22.5,30,37.5,45],"labelExpr":"datum.value===0?'EQ':datum.value%15===0?datum.value+'N':''","labelOffset":{"condition":[{"test":"datum.value===45","value":14},{"test":"datum.value===0","value":-8}],"value":4},"title":null}},"fill":{"field":"v","type":"ordinal","scale":{"domain":[-150,-120,-90,-60,-30,0,30,60,90,120,150],"range":["#5040A4","#4C62B4","#4FA3D9","#5AD7F6","#B8E9F4","#FFFFFF","#FFF4C8","#FFDF9E","#FFB574","#FF6A58","#FF0000"]},"legend":null},"detail":{"field":"g"}}},
{"data":{"name":"coast"},"mark":{"type":"line","clip":true,"stroke":"#9a8f90","strokeWidth":2},"encoding":{"x":{"field":"lon","type":"quantitative","scale":{"domain":[-100,0]},"axis":{"orient":"top","offset":-2,"values":[-100,-87.5,-75,-62.5,-50,-37.5,-25,-12.5,0],"title":null}},"y":{"field":"lat","type":"quantitative","scale":{"domain":[0,45],"range":[169,2]},"axis":{"orient":"right","values":[0,7.5,15,22.5,30,37.5,45],"title":null}},"detail":{"field":"s"}}},
{"data":{"values":[{"t":"SAMI","lon":-145.4,"lat":52.9}]},"mark":{"type":"text","align":"left","font":"Liberation Sans","fontSize":44,"color":"#000"},"encoding":{"x":{"field":"lon","type":"quantitative","scale":{"domain":[-100,0]},"axis":null},"y":{"field":"lat","type":"quantitative","scale":{"domain":[0,45],"range":[169,2]},"axis":null},"text":{"field":"t"}}}]},
{"resolve":{"axis":{"x":"independent","y":"independent"}},"layer":[
{"data":{"name":"bins"},"mark":{"type":"rect","stroke":"#333","strokeWidth":1},"encoding":{"x":{"datum":0,"type":"quantitative","scale":{"domain":[0,1],"range":[-101,-90]},"axis":null},"x2":{"datum":1},"y":{"field":"lo","type":"quantitative","scale":{"domain":[-180,180],"range":[238.7,3]},"axis":{"orient":"left","offset":101,"domain":false,"ticks":false,"values":[-150,-120,-90,-60,-30,0,30,60,90,120,150],"labelExpr":"datum.value+''","labelFontSize":16,"labelPadding":3,"title":null}},"y2":{"field":"hi"},"fill":{"field":"v","type":"ordinal","scale":{"domain":[-150,-120,-90,-60,-30,0,30,60,90,120,150],"range":["#5040A4","#4C62B4","#4FA3D9","#5AD7F6","#B8E9F4","#FFFFFF","#FFF4C8","#FFDF9E","#FFB574","#FF6A58","#FF0000"]},"legend":null}}},
{"data":{"name":"tips"},"mark":{"type":"line","interpolate":"linear-closed","stroke":"#333","strokeWidth":1},"encoding":{"x":{"field":"a","type":"quantitative","scale":{"domain":[0,1],"range":[-101,-90]},"axis":null},"y":{"field":"d","type":"quantitative","scale":{"domain":[-180,180],"range":[238.7,3]},"axis":null},"fill":{"field":"v","type":"ordinal","scale":{"domain":[-150,-120,-90,-60,-30,0,30,60,90,120,150],"range":["#5040A4","#4C62B4","#4FA3D9","#5AD7F6","#B8E9F4","#FFFFFF","#FFF4C8","#FFDF9E","#FFB574","#FF6A58","#FF0000"]},"legend":null}}},
{"data":{"values":[{"a":0.3,"d":-203.5,"t":"TC density"}]},"mark":{"type":"text","font":"Liberation Sans","fontSize":19,"color":"#111"},"encoding":{"x":{"field":"a","type":"quantitative","scale":{"domain":[0,1],"range":[-101,-90]},"axis":null},"y":{"field":"d","type":"quantitative","scale":{"domain":[-180,180],"range":[238.7,3]},"axis":null},"text":{"field":"t"}}}]}]},
{"width":305,"height":167,"resolve":{"axis":{"x":"independent","y":"independent"}},"layer":[
{"data":{"name":"c2"},"mark":{"type":"line","interpolate":"linear-closed","strokeWidth":0},"encoding":{"x":{"field":"lon","type":"quantitative","scale":{"domain":[-100,0]},"axis":{"orient":"bottom","values":[-100,-87.5,-75,-62.5,-50,-37.5,-25,-12.5,0],"labelExpr":"datum.value===0?'GM':datum.value%25===0?abs(datum.value)+'W':''","title":"Longitude"}},"y":{"field":"lat","type":"quantitative","scale":{"domain":[0,45]},"axis":{"orient":"left","values":[0,7.5,15,22.5,30,37.5,45],"labelExpr":"datum.value===0?'EQ':datum.value%15===0?datum.value+'N':''","labelOffset":{"condition":[{"test":"datum.value===45","value":13},{"test":"datum.value===0","value":-8}],"value":4},"title":"Latitude"}},"fill":{"field":"v","type":"ordinal","scale":{"domain":[-150,-120,-90,-60,-30,0,30,60,90,120,150],"range":["#5040A4","#4C62B4","#4FA3D9","#5AD7F6","#B8E9F4","#FFFFFF","#FFF4C8","#FFDF9E","#FFB574","#FF6A58","#FF0000"]},"legend":null},"detail":{"field":"g"}}},
{"data":{"name":"coast"},"mark":{"type":"line","clip":true,"stroke":"#9a8f90","strokeWidth":2},"encoding":{"x":{"field":"lon","type":"quantitative","scale":{"domain":[-100,0]},"axis":{"orient":"top","values":[-100,-87.5,-75,-62.5,-50,-37.5,-25,-12.5,0],"title":null}},"y":{"field":"lat","type":"quantitative","scale":{"domain":[0,45]},"axis":{"orient":"right","values":[0,7.5,15,22.5,30,37.5,45],"title":null}},"detail":{"field":"s"}}}]},
{"width":305,"height":167,"resolve":{"axis":{"x":"independent","y":"independent"}},"layer":[
{"data":{"name":"coast"},"mark":{"type":"line","clip":true,"stroke":"#9a8f90","strokeWidth":2},"encoding":{"x":{"field":"lon","type":"quantitative","scale":{"domain":[-70,-30]},"axis":{"orient":"bottom","values":[-70,-60,-50,-40,-30],"labelExpr":"abs(datum.value)%20===10?abs(datum.value)+'W':''","title":"Longitude"}},"y":{"field":"lat","type":"quantitative","scale":{"domain":[0,45]},"axis":{"orient":"left","values":[0,7.5,15,22.5,30,37.5,45],"labelExpr":"datum.value===0?'EQ':datum.value%15===0?datum.value+'N':''","labelOffset":{"condition":[{"test":"datum.value===45","value":13},{"test":"datum.value===0","value":-8}],"value":4},"title":"Latitude"}},"detail":{"field":"s"}}},
{"data":{"name":"t2"},"mark":{"type":"line","interpolate":"cardinal","strokeWidth":2},"encoding":{"x":{"field":"lon","type":"quantitative","scale":{"domain":[-70,-30]},"axis":{"orient":"top","values":[-70,-60,-50,-40,-30],"title":null}},"y":{"field":"lat","type":"quantitative","scale":{"domain":[0,45]},"axis":{"orient":"right","values":[0,7.5,15,22.5,30,37.5,45],"title":null}},"color":{"field":"s","type":"nominal","scale":{"domain":["control","M+1","M+2"],"range":["#000000","#FBAE17","#FF0000"]},"legend":null}}},
{"data":{"values":[{"s":"control","lon":-44.4,"lat":38.8},{"s":"M+1","lon":-44.4,"lat":30.4},{"s":"M+2","lon":-44.4,"lat":21}]},"mark":{"type":"text","align":"left","font":"Liberation Sans","fontSize":24},"encoding":{"x":{"field":"lon","type":"quantitative","scale":{"domain":[-70,-30]},"axis":null},"y":{"field":"lat","type":"quantitative","scale":{"domain":[0,45]},"axis":null},"text":{"field":"s"},"color":{"field":"s","type":"nominal","scale":{"domain":["control","M+1","M+2"],"range":["#000000","#FBAE17","#FF0000"]},"legend":null}}}]}
]}
